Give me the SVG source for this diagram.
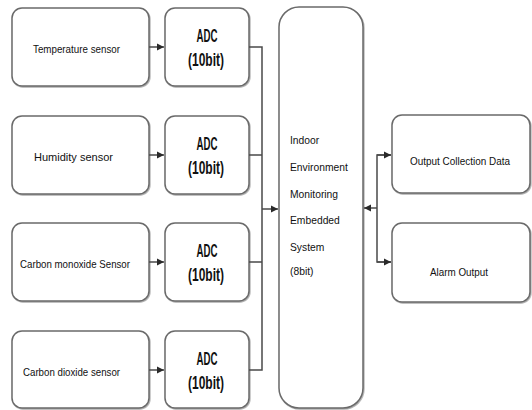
<svg xmlns="http://www.w3.org/2000/svg" width="532" height="410" viewBox="0 0 532 410">
<style>
.box{fill:#fff;stroke:#6a6a6a;stroke-width:1.5;filter:url(#sh)}
.lbl{font-family:"Liberation Sans",Arial,sans-serif;font-size:10.3px;fill:#111}
.adc{font-family:"Liberation Sans Narrow","Liberation Sans",Arial,sans-serif;font-size:19px;font-weight:bold;fill:#111;text-anchor:middle}
.con{fill:none;stroke:#4a4a4a;stroke-width:1.5}
</style>
<defs>
<filter id="sh" x="-10%" y="-10%" width="120%" height="120%">
<feDropShadow dx="0.8" dy="1" stdDeviation="0.6" flood-color="#888" flood-opacity="0.7"/>
</filter>
<marker id="ah" markerUnits="userSpaceOnUse" markerWidth="7" markerHeight="8" refX="7" refY="4" orient="auto">
<path d="M0,0.5 L7,4 L0,7.5 z" fill="#2a2a2a"/>
</marker>
</defs>
<rect width="532" height="410" fill="#fff"/>

<g id="temp-sensor"><rect class="box" x="12" y="8" width="137" height="78" rx="10"/><text class="lbl" x="33" y="53" textLength="87" lengthAdjust="spacingAndGlyphs">Temperature sensor</text></g>
<g id="humidity-sensor"><rect class="box" x="12" y="116" width="137" height="78" rx="10"/><text class="lbl" x="34" y="161" textLength="79" lengthAdjust="spacingAndGlyphs">Humidity sensor</text></g>
<g id="co-sensor"><rect class="box" x="12" y="223" width="137" height="78" rx="10"/><text class="lbl" x="20" y="268" textLength="110" lengthAdjust="spacingAndGlyphs">Carbon monoxide Sensor</text></g>
<g id="co2-sensor"><rect class="box" x="12" y="331" width="137" height="77" rx="10"/><text class="lbl" x="23" y="376" textLength="97" lengthAdjust="spacingAndGlyphs">Carbon dioxide sensor</text></g>

<g id="adc1"><rect class="box" x="165" y="8" width="84" height="78" rx="10"/><text class="adc" x="207" y="42" textLength="21" lengthAdjust="spacingAndGlyphs">ADC</text><text class="adc" x="206" y="66" textLength="36" lengthAdjust="spacingAndGlyphs">(10bit)</text></g>
<g id="adc2"><rect class="box" x="165" y="116" width="84" height="78" rx="10"/><text class="adc" x="207" y="150" textLength="21" lengthAdjust="spacingAndGlyphs">ADC</text><text class="adc" x="206" y="174" textLength="36" lengthAdjust="spacingAndGlyphs">(10bit)</text></g>
<g id="adc3"><rect class="box" x="165" y="223" width="84" height="78" rx="10"/><text class="adc" x="207" y="257" textLength="21" lengthAdjust="spacingAndGlyphs">ADC</text><text class="adc" x="206" y="281" textLength="36" lengthAdjust="spacingAndGlyphs">(10bit)</text></g>
<g id="adc4"><rect class="box" x="165" y="331" width="84" height="77" rx="10"/><text class="adc" x="207" y="365" textLength="21" lengthAdjust="spacingAndGlyphs">ADC</text><text class="adc" x="206" y="389" textLength="36" lengthAdjust="spacingAndGlyphs">(10bit)</text></g>

<g id="system"><rect class="box" x="279" y="7" width="84" height="401" rx="20"/>
<text class="lbl" x="290"><tspan x="290" y="144">Indoor</tspan><tspan x="290" y="171">Environment</tspan><tspan x="290" y="198">Monitoring</tspan><tspan x="290" y="224">Embedded</tspan><tspan x="290" y="251">System</tspan><tspan x="290" y="275">(8bit)</tspan></text></g>

<g id="output-data"><rect class="box" x="392" y="115" width="138" height="78" rx="10"/><text class="lbl" x="410" y="165" textLength="100" lengthAdjust="spacingAndGlyphs">Output Collection Data</text></g>
<g id="alarm"><rect class="box" x="392" y="223" width="138" height="79" rx="10"/><text class="lbl" x="430" y="276" textLength="58" lengthAdjust="spacingAndGlyphs">Alarm Output</text></g>

<g id="connectors">
<path class="con" d="M149,47 H164" marker-end="url(#ah)"/>
<path class="con" d="M149,155 H164" marker-end="url(#ah)"/>
<path class="con" d="M149,262 H164" marker-end="url(#ah)"/>
<path class="con" d="M149,370 H164" marker-end="url(#ah)"/>
<path class="con" d="M249,47 H262 V370 H249"/>
<path class="con" d="M249,155 H262 M249,262 H262"/>
<path class="con" d="M262,209 H278" marker-end="url(#ah)"/>
<path class="con" d="M377,208 H364" marker-end="url(#ah)"/>
<path class="con" d="M391,155 H377 V262 H391"/>
<path class="con" d="M377,155 H391" marker-end="url(#ah)"/>
<path class="con" d="M377,262 H391" marker-end="url(#ah)"/>
</g>
</svg>
